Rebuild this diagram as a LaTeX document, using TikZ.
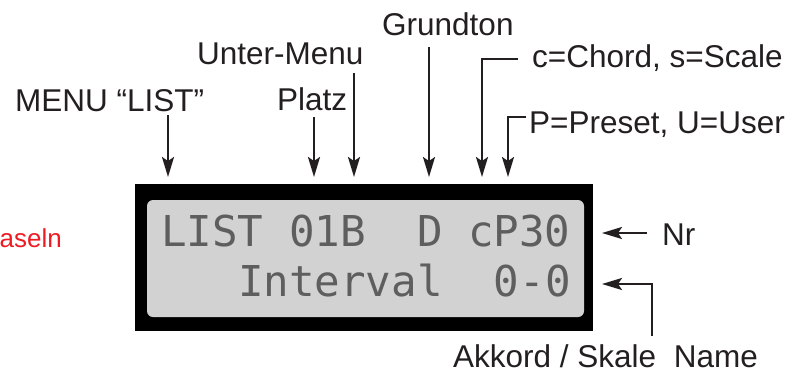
\documentclass[tikz,border=0pt]{standalone}
\usepackage{fontspec}
\setmainfont{Liberation Sans}
\newfontfamily\lcdfont{DejaVu Sans Mono}
\usetikzlibrary{arrows.meta}
\definecolor{ink}{HTML}{231F20}
\definecolor{lcdbg}{HTML}{D2D2D2}
\definecolor{lcdtxt}{HTML}{5E5E5E}
\definecolor{redtxt}{HTML}{ED1C24}
\begin{document}
\begin{tikzpicture}[x=1pt,y=-1pt,
  lbl/.style={font=\fontsize{31.5}{36}\selectfont, text=ink, inner sep=0pt, anchor=base west},
  arr/.style={draw=ink, line width=2.2pt, -{Stealth[length=20pt,width=12pt,inset=4pt]}},
  lcd/.style={font=\lcdfont\fontsize{42.5}{42.5}\selectfont, text=lcdtxt, inner sep=0pt, anchor=base west}]
\useasboundingbox (0,0) rectangle (804,376);
% display
\fill[black] (135,184) rectangle (593,331);
\fill[lcdbg, rounded corners=6pt] (147,200) rectangle (584,317);
\node[lcd] (row1) at (161,246) {LIST~01B~~D~cP30};
\node[lcd] (row2) at (237.8,296) {Interval~~0-0};
% labels
\node[lbl] (menu) at (15,111) {MENU “LIST”};
\node[lbl] (platz) at (277,110) {Platz};
\node[lbl] (unter) at (197,64) {Unter-Menu};
\node[lbl] (grund) at (382,35) {Grundton};
\node[lbl] (chord) at (532,67) {c=Chord, s=Scale};
\node[lbl] (preset) at (529,133) {P=Preset, U=User};
\node[lbl] (nr) at (662,245) {Nr};
\node[lbl] (akk) at (453,367) {Akkord / Skale\ \ Name};
\node[lbl, font=\fontsize{26}{30}\selectfont, text=redtxt, anchor=base east] (red) at (62,247) {aseln};
% arrow coordinates
\coordinate (sMenu) at (168,115);   \coordinate (tMenu) at (168,177);
\coordinate (sPlatz) at (314,117);  \coordinate (tPlatz) at (314,177);
\coordinate (sUnter) at (354,73);   \coordinate (tUnter) at (354,177);
\coordinate (sGrund) at (429,47);   \coordinate (tGrund) at (429,177);
\coordinate (sChord) at (518,59);   \coordinate (cChord) at (482,59);   \coordinate (tChord) at (482,177);
\coordinate (sPreset) at (526,117); \coordinate (cPreset) at (508,117); \coordinate (tPreset) at (508,177);
\coordinate (sNr) at (647,233);     \coordinate (tNr) at (602,233);
\coordinate (sAkk) at (652,336);    \coordinate (cAkk) at (652,284);    \coordinate (tAkk) at (602,284);
% arrows
\draw[arr] (sMenu) -- (tMenu);
\draw[arr] (sPlatz) -- (tPlatz);
\draw[arr] (sUnter) -- (tUnter);
\draw[arr] (sGrund) -- (tGrund);
\draw[arr] (sChord) -- (cChord) -- (tChord);
\draw[arr] (sPreset) -- (cPreset) -- (tPreset);
\draw[arr] (sNr) -- (tNr);
\draw[arr] (sAkk) -- (cAkk) -- (tAkk);
\end{tikzpicture}
\end{document}
